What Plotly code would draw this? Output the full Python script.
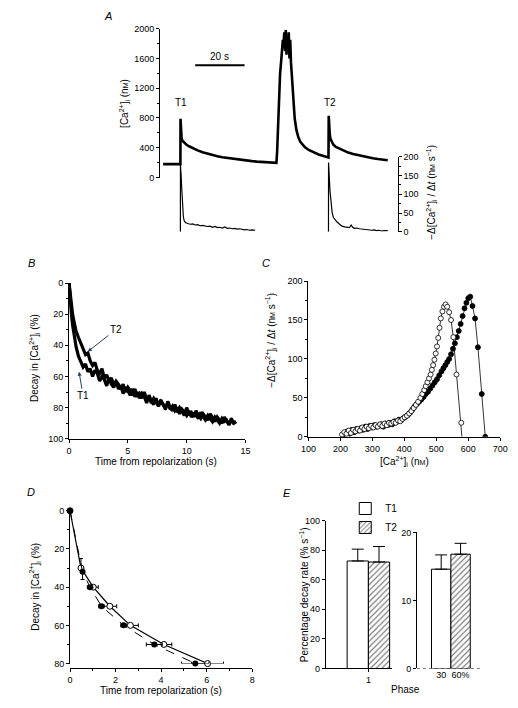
import plotly.graph_objects as go

W, H = 518, 708
FONT = "Liberation Sans, Arial, sans-serif"


def px(x):
    return x / W


def py(y):
    return 1 - y / H


# ---------------- Panel A data ----------------
A_ca_t = [0, 2, 4, 6, 7.0, 7.05, 7.15, 7.3, 7.5, 7.8, 8.2, 8.8, 9.5, 10.5, 12, 14, 16, 18, 20, 22,
          24, 26, 28, 30, 32, 34, 36, 38, 40, 42, 44, 45.9, 46.2, 46.6, 47.0, 47.4, 47.8, 48.2, 48.5, 48.8,
          49.1, 49.4, 49.7, 50.0, 50.3, 50.6, 50.9, 51.2, 51.5, 51.8, 52.2, 52.7, 53.3, 54.0, 54.8, 55.6, 56.5, 57.5, 59, 61,
          63, 65, 66.9, 67.0, 67.1, 67.25, 67.5, 67.8, 68.3, 69, 70, 71.5, 73, 75, 77, 79, 81, 83, 85, 87,
          89, 91]
A_ca = [180, 182, 180, 181, 180, 790, 650, 560, 520, 495, 480, 460, 440, 420, 395, 365, 340, 320, 302, 285,
        272, 262, 252, 243, 235, 228, 220, 214, 208, 204, 200, 198, 350, 800, 1150, 1400, 1550, 1720, 1850, 1800,
        1950, 1700, 1980, 1650, 1900, 1700, 1950, 1600, 1850, 1550, 1350, 1050, 800, 640, 540, 480, 440, 405, 370, 335,
        310, 290, 272, 270, 830, 680, 590, 520, 475, 440, 410, 385, 360, 335, 315, 300, 280, 268, 258, 248,
        240, 233]

A_rate1_t = [7.0, 7.02, 7.3, 7.6, 7.9, 8.2, 8.6, 9.2, 10, 11, 12, 13, 14, 15, 16, 17, 18, 19,
             20, 21, 22, 23, 24, 25, 26, 27, 28, 29, 30, 31, 32, 33, 34, 35, 36, 37.3]
A_rate1 = [0, 178, 150, 110, 70, 40, 28, 24, 22, 20, 21, 18, 19, 16, 17, 15, 14, 15,
           12, 14, 11, 12, 10, 13, 9, 10, 8, 9, 7, 8, 6, 5, 6, 4, 5, 4]
A_rate2_t = [67.0, 67.03, 67.3, 67.6, 68.0, 68.5, 69.0, 69.7, 70.5, 71.5, 72.5, 73.5, 74.5, 75.5, 76.2, 76.8,
             77.5, 78.5, 79.5, 80.5, 81.5, 82.5, 83.5, 84.5, 85.5, 86.5, 87.5, 88.5, 89.5, 90.5, 91]
A_rate2 = [0, 185, 150, 110, 79, 50, 38, 31, 26, 20, 15, 13, 12, 11, 18, 12,
           9, 10, 8, 7, 6, 7, 5, 4, 5, 3, 4, 2, 3, 2, 3]

# ---------------- Panel B data ----------------
B_t = [0, 0.1, 0.2, 0.3, 0.4, 0.5] + [round(0.6 + 0.2 * i, 1) for i in range(69)]
B_T1 = [0, 12, 20, 27, 33, 37,
        41, 47, 50, 54, 52, 57, 55, 60, 56, 58, 63, 60, 62, 66, 61, 65, 67, 63, 68, 66,
        71, 67, 69, 72, 68, 73, 70, 74, 71, 73, 77, 72, 76, 78, 74, 79, 76, 78, 81, 76,
        80, 82, 78, 83, 80, 82, 85, 80, 84, 83, 86, 82, 85, 87, 84, 86, 88, 84, 87, 89,
        86, 88, 90, 86, 89, 91, 87, 90, 89]
B_T2 = [0, 8, 15, 20, 24, 28,
        31, 35, 39, 42, 46, 45, 50, 53, 51, 56, 58, 55, 61, 59, 63, 61, 66, 63, 65, 68,
        65, 70, 67, 69, 72, 68, 73, 71, 74, 70, 75, 73, 77, 74, 76, 79, 75, 78, 80, 77,
        81, 79, 82, 80, 84, 81, 83, 85, 82, 86, 84, 85, 87, 83, 86, 88, 85, 87, 89, 86,
        88, 90, 87, 89, 88, 91, 88, 90, 89]

# ---------------- Panel C data ----------------
C_open_x = [205, 212, 219, 226, 233, 240, 247, 254, 261, 268, 275, 282, 289, 296, 303, 310, 317, 324, 331, 338,
            345, 352, 359, 366, 373, 380, 387, 394, 401, 408, 415, 422, 429, 436, 443, 450, 456, 462, 467, 472,
            477, 482, 486, 490, 494, 498, 502, 506, 510, 514, 519, 524, 529, 534, 540, 546, 553, 563, 578, 580]
C_open_y = [3, 6, 4, 8, 5, 9, 7, 10, 8, 12, 10, 13, 11, 14, 12, 15, 13, 16, 14, 17,
            15, 18, 17, 19, 18, 21, 20, 23, 25, 27, 30, 33, 37, 41, 45, 50, 55, 60, 65, 70,
            75, 80, 86, 92, 99, 107, 116, 127, 140, 152, 161, 167, 170, 167, 160, 150, 128, 80, 18, 0]
C_fill_x = [208, 215, 222, 229, 236, 243, 250, 257, 264, 271, 278, 285, 292, 299, 306, 313, 320, 327, 334, 341,
            348, 355, 362, 369, 376, 383, 390, 397, 404, 411, 418, 425, 432, 439, 446, 453, 460, 467, 474, 481,
            488, 495, 502, 509, 516, 522, 528, 534, 540, 546, 552, 558, 564, 570, 576, 582, 588, 594, 600, 606,
            613, 621, 630, 642, 653]
C_fill_y = [2, 5, 7, 4, 9, 6, 10, 8, 11, 9, 13, 10, 14, 12, 15, 13, 14, 16, 13, 17,
            15, 18, 16, 20, 19, 22, 21, 24, 26, 28, 31, 35, 39, 42, 45, 48, 51, 55, 58, 62,
            66, 70, 74, 79, 84, 88, 92, 96, 100, 106, 113, 120, 128, 136, 145, 155, 165, 172, 178, 180,
            168, 152, 115, 55, 0]

# ---------------- Panel D data ----------------
D_open_t = [0, 0.48, 1.02, 1.75, 2.65, 4.12, 6.04]
D_open_y = [0, 30, 40, 50, 60, 70, 80]
D_open_xerr = [0, 0.08, 0.22, 0.3, 0.35, 0.35, 0.7]
D_open_yerr_minus = [0, 5, 0, 0, 0, 0, 0]
D_fill_t = [0, 0.55, 0.88, 1.38, 2.35, 3.7, 5.5]
D_fill_y = [0, 32, 40, 50, 60, 70, 80]
D_fill_xerr = [0, 0.08, 0.12, 0.12, 0.12, 0.35, 0.6]
D_fill_yerr_plus = [0, 4, 0, 0, 0, 0, 0]

# ---------------- Panel E data ----------------
E_groups = ["T1", "T2"]
E_phase1 = [72.7, 72.0]
E_phase1_err = [8.0, 10.5]
E_phase2 = [14.6, 16.8]
E_phase2_err = [2.1, 1.6]
E_phase2_labels = ["30", "60%"]

fig = go.Figure()

# Panel A traces
fig.add_trace(go.Scatter(x=A_ca_t, y=A_ca, mode="lines", line=dict(color="black", width=2.6),
                         xaxis="x", yaxis="y", showlegend=False))
fig.add_trace(go.Scatter(x=A_rate1_t, y=A_rate1, mode="lines", line=dict(color="black", width=1.2),
                         xaxis="x", yaxis="y2", showlegend=False))
fig.add_trace(go.Scatter(x=A_rate2_t, y=A_rate2, mode="lines", line=dict(color="black", width=1.2),
                         xaxis="x", yaxis="y2", showlegend=False))

# Panel B
fig.add_trace(go.Scatter(x=B_t, y=B_T2, mode="lines", line=dict(color="black", width=3.2),
                         xaxis="x3", yaxis="y3", showlegend=False))
fig.add_trace(go.Scatter(x=B_t, y=B_T1, mode="lines", line=dict(color="black", width=3.2),
                         xaxis="x3", yaxis="y3", showlegend=False))

# Panel C
fig.add_trace(go.Scatter(x=C_fill_x, y=C_fill_y, mode="lines+markers",
                         line=dict(color="black", width=0.8),
                         marker=dict(symbol="circle", size=5, color="black", opacity=1,
                                     line=dict(color="black", width=0.8)),
                         xaxis="x4", yaxis="y4", showlegend=False))
open_sizes = [5] * (len(C_open_x) - 1) + [0]
fig.add_trace(go.Scatter(x=C_open_x, y=C_open_y, mode="lines+markers",
                         line=dict(color="black", width=0.8),
                         marker=dict(symbol="circle", size=open_sizes, color="white", opacity=1,
                                     line=dict(color="black", width=0.8)),
                         xaxis="x4", yaxis="y4", showlegend=False))

# Panel D
fig.add_trace(go.Scatter(x=D_open_t, y=D_open_y, mode="lines+markers",
                         line=dict(color="black", width=1.2),
                         marker=dict(symbol="circle", size=6, color="white", line=dict(color="black", width=1)),
                         error_x=dict(type="data", array=D_open_xerr, color="black", thickness=1, width=2),
                         error_y=dict(type="data", symmetric=False, array=[0] * 7, arrayminus=D_open_yerr_minus,
                                      color="black", thickness=1, width=2),
                         xaxis="x5", yaxis="y5", showlegend=False, cliponaxis=False))
fig.add_trace(go.Scatter(x=D_fill_t, y=D_fill_y, mode="lines+markers",
                         line=dict(color="black", width=1, dash="dash"),
                         marker=dict(symbol="circle", size=6, color="black"),
                         error_x=dict(type="data", array=D_fill_xerr, color="black", thickness=1, width=2),
                         error_y=dict(type="data", symmetric=False, array=D_fill_yerr_plus, arrayminus=[0] * 7,
                                      color="black", thickness=1, width=2),
                         xaxis="x5", yaxis="y5", showlegend=False, cliponaxis=False))

# Panel E
hatch = dict(shape="/", fgcolor="black", bgcolor="white", size=4, solidity=0.3)
for i, name in enumerate(E_groups):
    mk = dict(color="white", line=dict(color="black", width=1))
    if i == 1:
        mk["pattern"] = hatch
    fig.add_trace(go.Bar(x=[0.5 + i], y=[E_phase1[i]], width=[1], name=name, marker=mk,
                         error_y=dict(type="data", symmetric=False, array=[E_phase1_err[i]], arrayminus=[0],
                                      color="black", thickness=1, width=6),
                         xaxis="x6", yaxis="y6", showlegend=True))
    fig.add_trace(go.Bar(x=[0.5 + i], y=[E_phase2[i]], width=[1], name=name, marker=mk,
                         error_y=dict(type="data", symmetric=False, array=[E_phase2_err[i]], arrayminus=[0],
                                      color="black", thickness=1, width=6),
                         xaxis="x7", yaxis="y7", showlegend=False))


def ax(**kw):
    base = dict(showline=True, linecolor="black", linewidth=1, ticks="outside", ticklen=3, tickwidth=1,
                tickcolor="black", showgrid=False, zeroline=False,
                tickfont=dict(size=9, family=FONT, color="black"))
    base.update(kw)
    return base


def minor(d):
    return dict(ticks="outside", ticklen=2, dtick=d, tickcolor="black", showgrid=False)


layout = dict(
    width=W, height=H, margin=dict(l=0, r=0, t=0, b=0), autosize=False,
    paper_bgcolor="white", plot_bgcolor="rgba(0,0,0,0)", barmode="overlay",
    font=dict(family=FONT, size=10, color="black"),
    # Panel A
    xaxis=dict(domain=[px(157), px(402)], range=[-1.2, 95], visible=False, anchor="y"),
    yaxis=ax(domain=[py(175), py(24)], range=[0, 2000], tickvals=[0, 400, 800, 1200, 1600, 2000],
             minor=minor(200), anchor="x"),
    yaxis2=ax(domain=[py(230), py(154)], range=[0, 200], dtick=50, minor=minor(25), side="right", anchor="x"),
    # Panel B
    xaxis3=ax(domain=[px(63), px(245)], range=[0, 15], dtick=5, anchor="y3"),
    yaxis3=ax(domain=[py(440), py(282)], range=[100, 0], dtick=20, minor=minor(10), anchor="x3"),
    # Panel C
    xaxis4=ax(domain=[px(310), px(508)], range=[100, 700], dtick=100, anchor="y4"),
    yaxis4=ax(domain=[py(438), py(280)], range=[0, 200], dtick=50, minor=minor(25), anchor="x4"),
    # Panel D
    xaxis5=ax(domain=[px(64), px(252)], range=[0, 8], dtick=2, minor=minor(1), anchor="free", position=py(673)),
    yaxis5=ax(domain=[py(668), py(513)], range=[80, 0], dtick=20, minor=minor(10), anchor="x5"),
    # Panel E
    xaxis6=ax(domain=[px(328), px(396)], range=[-1, 2.1], tickvals=[1], ticktext=["1"], anchor="y6"),
    yaxis6=ax(domain=[py(673), py(523)], range=[0, 100], dtick=20, anchor="x6"),
    xaxis7=ax(domain=[px(422), px(490)], range=[-0.75, 2.65], tickvals=[0.5, 1.5], ticktext=E_phase2_labels,
              showline=False, ticks="", anchor="y7"),
    yaxis7=ax(domain=[py(673), py(535)], range=[0, 20], dtick=10, anchor="x7"),
    legend=dict(x=px(348), y=py(496), xanchor="left", yanchor="top", font=dict(size=10, family=FONT),
                bgcolor="rgba(0,0,0,0)", itemwidth=30, tracegroupgap=0, traceorder="normal"),
)
fig.update_layout(**layout)

# Scale bar in panel A and dotted baseline in panel E (right)
fig.add_shape(type="line", xref="x", yref="y", x0=13, x1=33, y0=1510, y1=1510, line=dict(color="black", width=2))
fig.add_shape(type="line", xref="x7", yref="y7", x0=-0.75, x1=2.65, y0=0, y1=0,
              line=dict(color="black", width=1, dash="dot"), layer="below")

ann = []


def txt(x, y, s, size=10, angle=0, **kw):
    d = dict(x=px(x), y=py(y), xref="paper", yref="paper", text=s, showarrow=False, textangle=angle,
             font=dict(size=size, family=FONT, color="black"), xanchor="center", yanchor="middle")
    d.update(kw)
    ann.append(d)


CA = "[Ca<sup>2+</sup>]<sub>i</sub>"
NM = "n<span style='font-size:7px'>M</span>"

# panel letters
txt(103, 11, "<i>A</i>", 11)
txt(24, 262, "<i>B</i>", 11)
txt(266, 262, "<i>C</i>", 11)
txt(24, 494, "<i>D</i>", 11)
txt(288, 495, "<i>E</i>", 11)

# Panel A texts
ann.append(dict(x=23, y=1510, xref="x", yref="y", text="20 s", showarrow=False, yanchor="bottom", yshift=1,
                font=dict(size=10, family=FONT)))
ann.append(dict(x=7.4, y=1010, xref="x", yref="y", text="T1", showarrow=False, font=dict(size=10, family=FONT)))
ann.append(dict(x=67.8, y=1010, xref="x", yref="y", text="T2", showarrow=False, font=dict(size=10, family=FONT)))
txt(120, 100, CA + " (" + NM + ")", 10, -90)
txt(437, 190, "−Δ" + CA + " / Δ<i>t</i> (" + NM + " s<sup>−1</sup>)", 10, -90)

# Panel B texts
txt(28, 358, "Decay in " + CA + " (%)", 10, -90)
txt(153, 463, "Time from repolarization (s)", 10)
ann.append(dict(x=1.6, y=44, xref="x3", yref="y3", text="T2", showarrow=True, arrowhead=2, arrowsize=0.8,
                arrowwidth=1, ax=28, ay=-22, font=dict(size=10, family=FONT)))
ann.append(dict(x=0.85, y=57, xref="x3", yref="y3", text="T1", showarrow=True, arrowhead=2, arrowsize=0.8,
                arrowwidth=1, ax=4, ay=24, font=dict(size=10, family=FONT)))

# Panel C texts
txt(271, 340, "−Δ" + CA + " / Δ<i>t</i> (" + NM + " s<sup>−1</sup>)", 10, -90)
txt(409, 463, CA + " (" + NM + ")", 10)

# Panel D texts
txt(28, 590, "Decay in " + CA + " (%)", 10, -90)
txt(158, 695, "Time from repolarization (s)", 10)

# Panel E texts
txt(305, 598, "Percentage decay rate (% s<sup>−1</sup>)", 10, -90)
txt(410, 694, "Phase", 10)

fig.update_layout(annotations=ann)
fig.write_html("out.html", config={"displayModeBar": False},
               post_script="document.body.style.margin='0';")
